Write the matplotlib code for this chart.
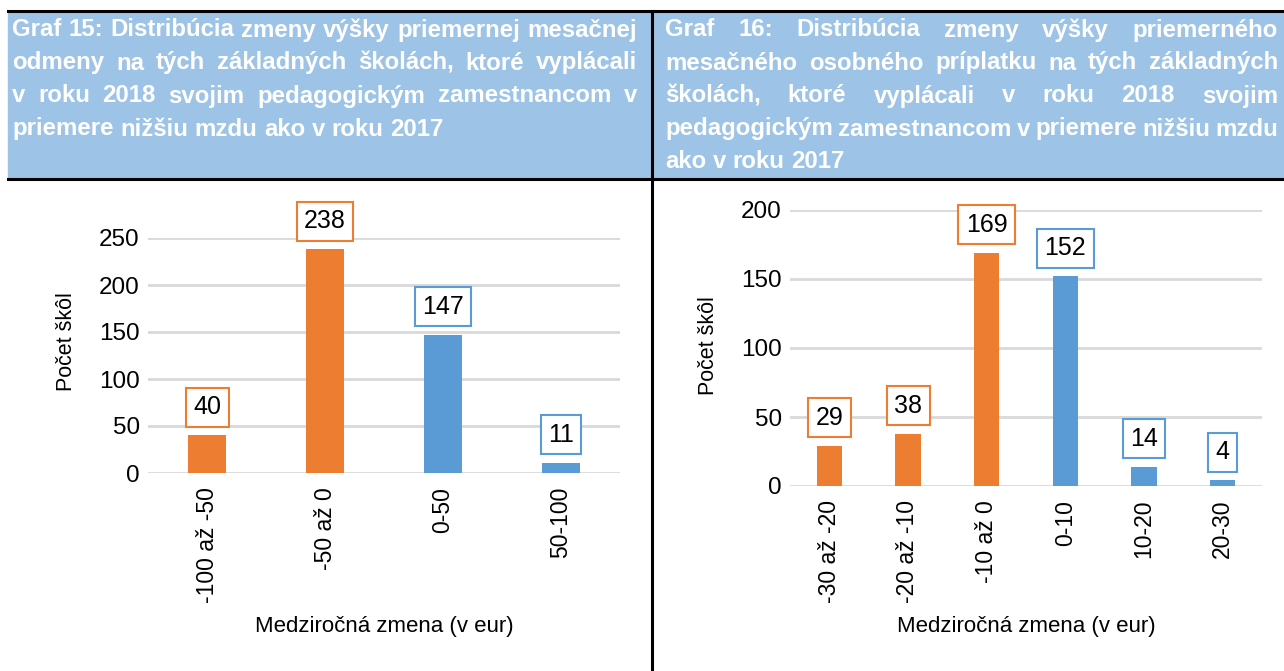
import matplotlib
matplotlib.use("Agg")
import matplotlib.pyplot as plt
import matplotlib.font_manager as fm
from matplotlib.patches import Rectangle
from matplotlib.lines import Line2D

# data
cats15 = ["-100 až -50", "-50 až 0", "0-50", "50-100"]
vals15 = [40, 238, 147, 11]
cats16 = ["-30 až -20", "-20 až -10", "-10 až 0", "0-10", "10-20", "20-30"]
vals16 = [29, 38, 169, 152, 14, 4]

title15 = ["Graf 15: Distribúcia zmeny výšky priemernej mesačnej",
           "odmeny na tých základných školách, ktoré vyplácali",
           "v roku 2018 svojim pedagogickým zamestnancom v",
           "priemere nižšiu mzdu ako v roku 2017"]
title16 = ["Graf 16: Distribúcia zmeny výšky priemerného",
           "mesačného osobného príplatku na tých základných",
           "školách, ktoré vyplácali v roku 2018 svojim",
           "pedagogickým zamestnancom v priemere nižšiu mzdu",
           "ako v roku 2017"]

ylabel = "Počet škôl"
xlabel = "Medziročná zmena (v eur)"

ORANGE = "#ED7D31"
BLUE = "#5B9BD5"
HEAD = "#9DC3E6"
GRID = "#D9D9D9"

names = {f.name for f in fm.fontManager.ttflist}
FONT = "Liberation Sans Narrow" if "Liberation Sans Narrow" in names else "Liberation Sans"
plt.rcParams["font.family"] = [FONT, "DejaVu Sans"]

W, H = 1284, 671
fig = plt.figure(figsize=(W / 100, H / 100), dpi=100)


def fx(x):
    return x / W


def fy(y):
    return 1 - y / H


# header band and table lines
fig.patches.append(Rectangle((fx(8), fy(179)), fx(W - 8), (179 - 11) / H,
                             transform=fig.transFigure, color=HEAD, zorder=0))
for (x0, y0, x1, y1) in [(8, 11, W, 11), (8, 179, W, 179), (652, 11, 652, H)]:
    fig.lines.append(Line2D([fx(x0), fx(x1)], [fy(y0), fy(y1)], transform=fig.transFigure,
                            color="black", lw=2.2, zorder=3))

r = fig.canvas.get_renderer()


def text_w(s, size):
    t = fig.text(0, 0, s, fontsize=size, fontweight="bold")
    w = t.get_window_extent(r).width
    t.remove()
    return w


def fit_size(lines, width, start=19.0):
    size = start
    while size > 10:
        ok = True
        for line in lines[:-1]:
            words = line.split(" ")
            need = sum(text_w(w, size) for w in words) + (len(words) - 1) * 0.2 * size * 1.389
            if need > width:
                ok = False
                break
        if ok:
            return size
        size -= 0.25
    return size


def justify(lines, x0, x1, y_first, step, size):
    spw = text_w("a a", size) - text_w("aa", size)
    for i, line in enumerate(lines):
        words = line.split(" ")
        txts = [fig.text(0, 0, w, color="white", fontsize=size, fontweight="bold",
                         va="center", ha="left") for w in words]
        widths = [t.get_window_extent(r).width for t in txts]
        if i == len(lines) - 1 or len(words) == 1:
            gap = spw
        else:
            gap = (x1 - x0 - sum(widths)) / (len(words) - 1)
        x = x0
        y = y_first + i * step
        for t, w in zip(txts, widths):
            t.set_position((fx(x), fy(y)))
            x += w + gap


hs = min(fit_size(title15, 637 - 12), fit_size(title16, 1278 - 665))
justify(title15, 12, 637, 30, 33, hs)
justify(title16, 665, 1278, 30, 33, hs)


def bar_chart(rect, cats, vals, ymax, step, ylab_y, xlab_y):
    ax = fig.add_axes(rect)
    colors = [ORANGE if c.startswith("-") else BLUE for c in cats]
    x = range(len(cats))
    ax.bar(x, vals, width=0.32, color=colors, zorder=2)
    for xi, v, c in zip(x, vals, colors):
        ax.annotate(str(v), (xi, v), xytext=(0, 16), textcoords="offset pixels",
                    ha="center", va="bottom", fontsize=18,
                    bbox=dict(boxstyle="square,pad=0.3", fc="white", ec=c, lw=1.5))
    ax.set_xlim(-0.5, len(cats) - 0.5)
    ax.set_ylim(0, ymax)
    ax.set_yticks(range(0, ymax + 1, step))
    ax.set_xticks(list(x))
    ax.set_xticklabels(cats, rotation=90)
    ax.tick_params(axis="both", length=0)
    ax.tick_params(axis="x", pad=10, labelsize=16.5)
    ax.tick_params(axis="y", pad=6, labelsize=17.5)
    ax.yaxis.grid(True, color=GRID, lw=2, zorder=0)
    ax.set_axisbelow(True)
    for s in ax.spines.values():
        s.set_visible(False)
    ax.set_ylabel(ylabel, fontsize=15.5)
    ax.set_xlabel(xlabel, fontsize=16)
    ax.yaxis.set_label_coords(-0.15, ylab_y)
    ax.xaxis.set_label_coords(0.5, xlab_y)
    return ax


# left chart: plot area 148..620 px, y 238..473 px
bar_chart([fx(148), fy(473), (620 - 148) / W, (473 - 238) / H], cats15, vals15, 250, 50, 0.56, -0.61)
# right chart: plot area 790..1262 px, y 210..486 px
bar_chart([fx(790), fy(486), (1262 - 790) / W, (486 - 210) / H], cats16, vals16, 200, 50, 0.51, -0.47)

fig.savefig("out.png", dpi=100)
